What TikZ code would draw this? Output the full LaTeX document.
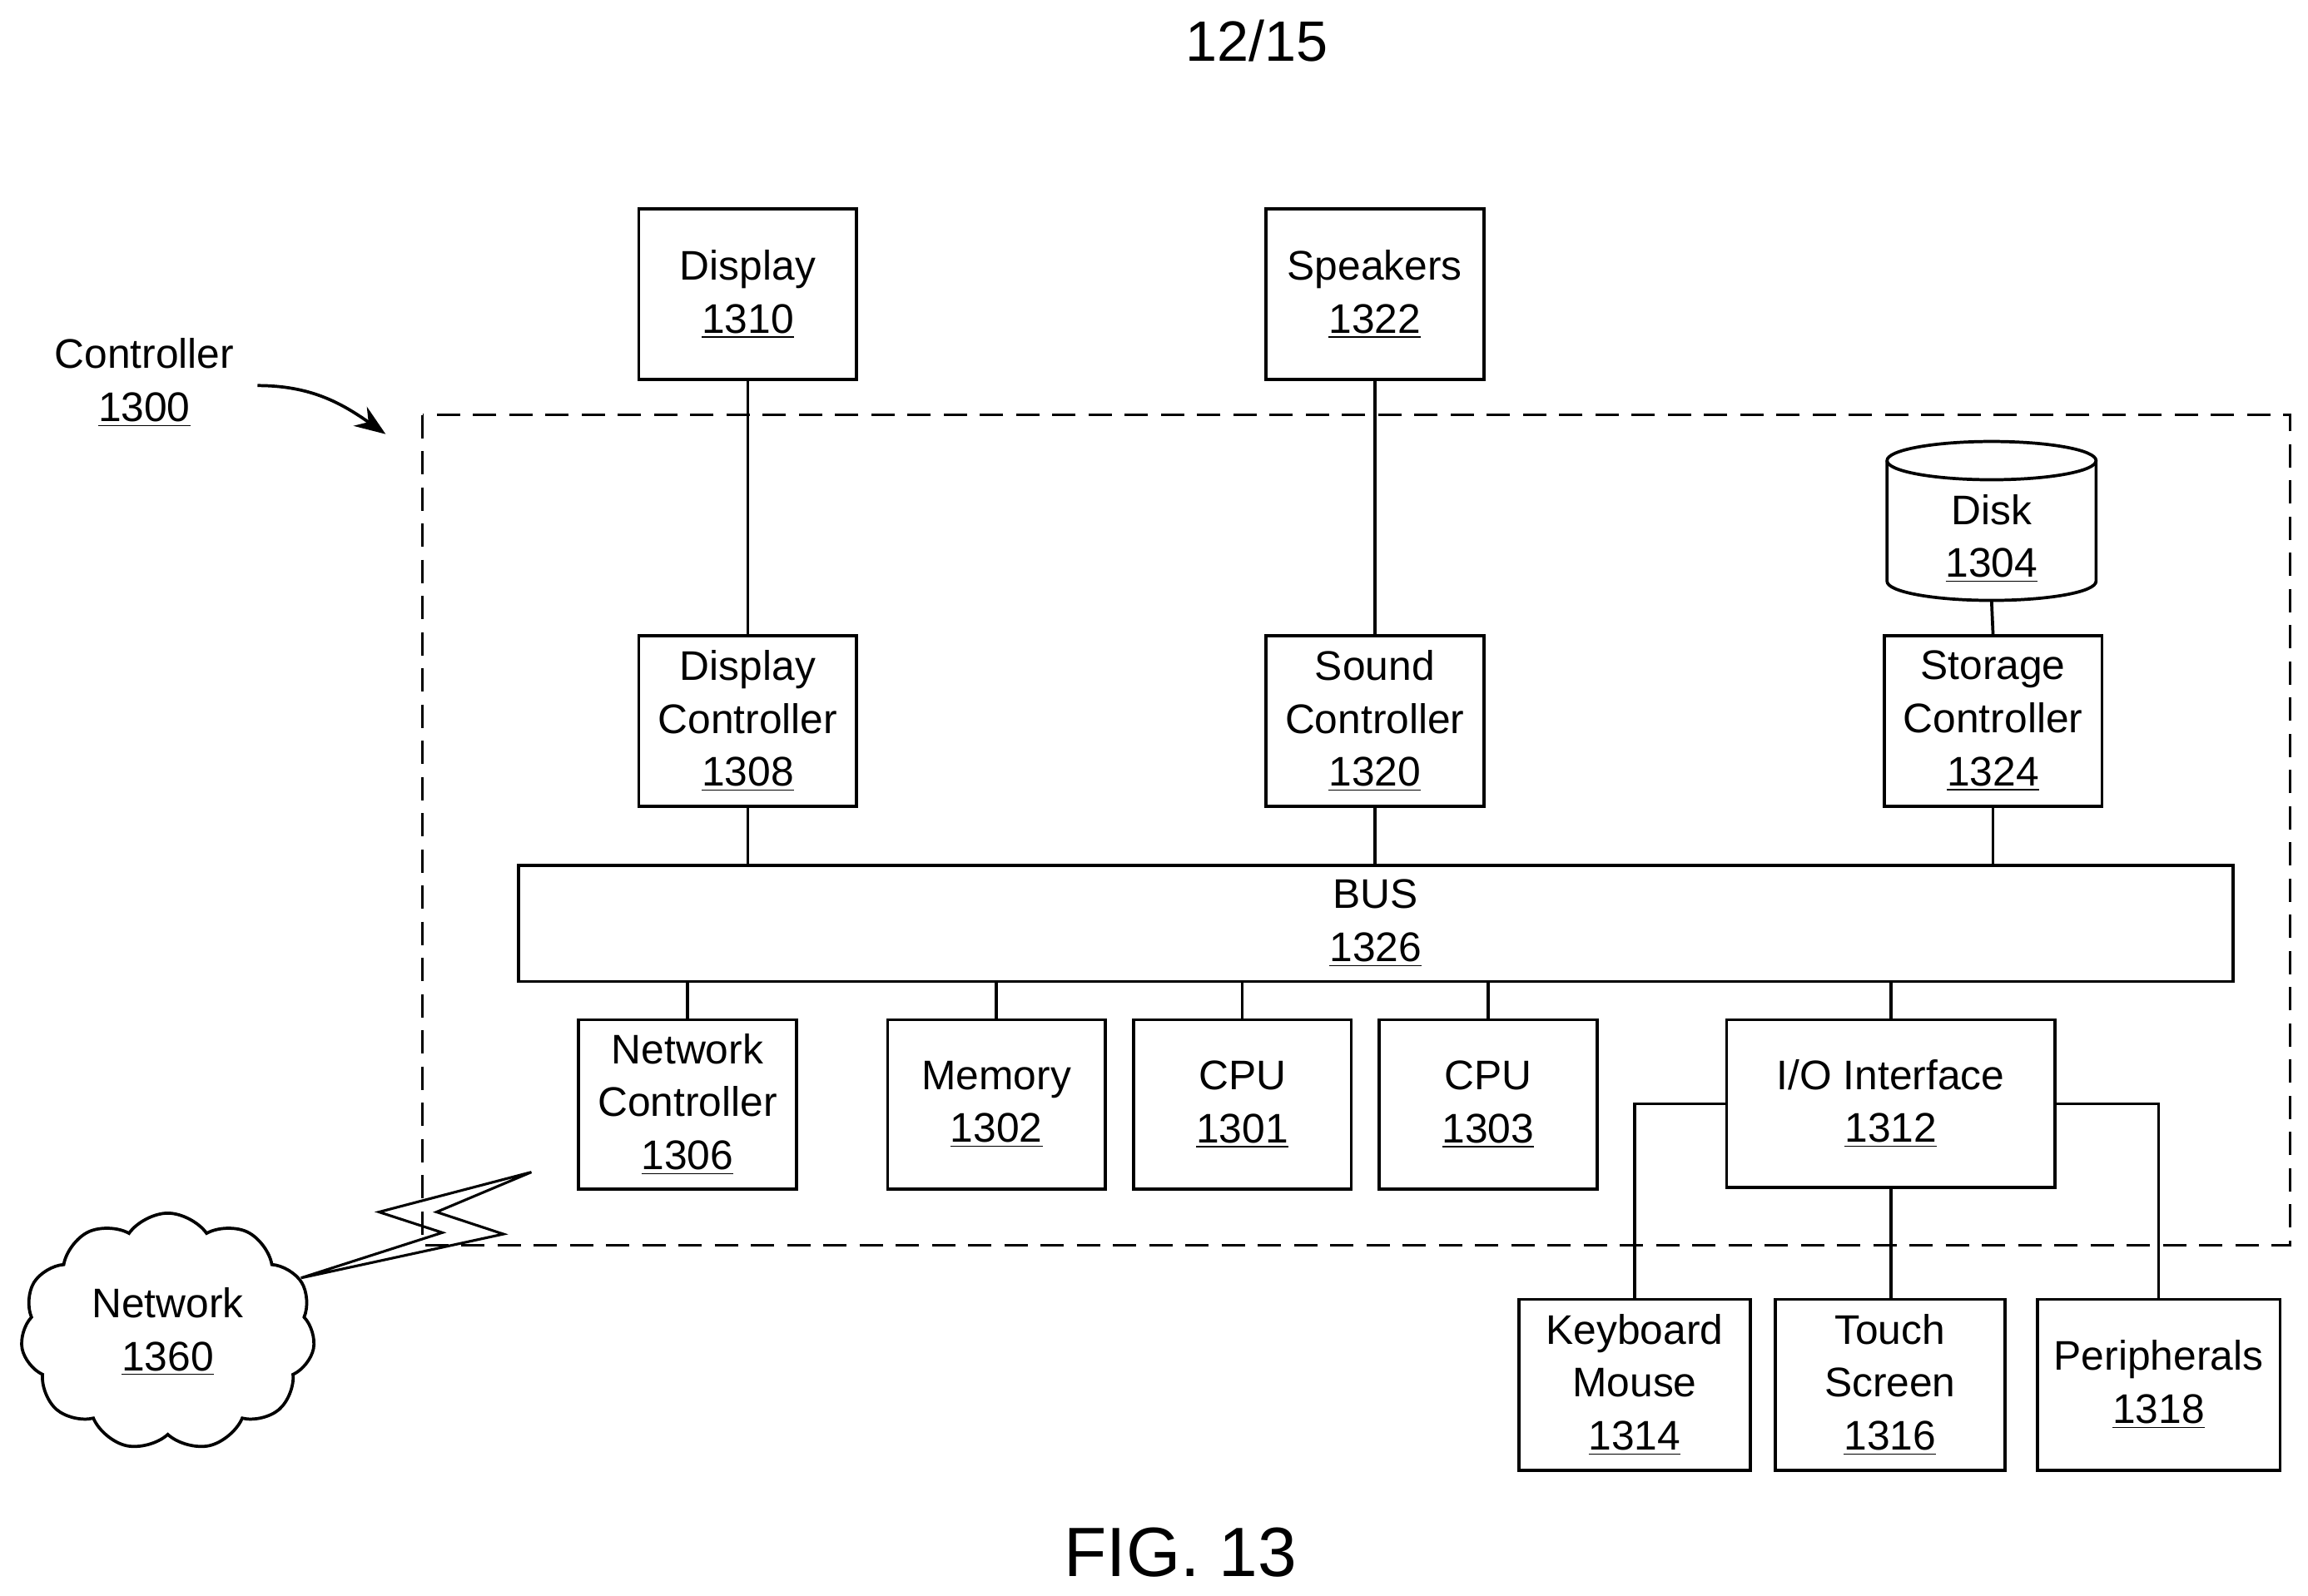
\documentclass[tikz,border=0pt]{standalone}
\usepackage{fontspec}
\setmainfont{Liberation Sans}
\usetikzlibrary{shapes.symbols,arrows.meta}
\begin{document}
\begin{tikzpicture}[x=0.02cm,y=-0.02cm,line width=1.2pt,
  every node/.style={font=\fontsize{16}{20.5}\selectfont,align=center,inner sep=0pt},
  box/.style={draw,minimum width=2.96cm,minimum height=2.32cm},
  lowbox/.style={draw,minimum width=2.96cm,minimum height=2.3cm}]
\useasboundingbox (0,0) rectangle (1568,1084);
\node (page) at (854,28) {\fontsize{22}{26}\selectfont 12/15};
\node (fig) at (802,1055) {\fontsize{27}{32}\selectfont FIG. 13};
\draw[dash pattern=on 9pt off 5pt,line width=0.9pt] (287,282) rectangle (1556,846);
\node (ctl) at (98,260) {Controller\\\underline{1300}};
\coordinate (ca) at (175,262);
\coordinate (cb) at (262,295);
\draw[-{Stealth[length=12pt,width=9pt]}] (ca) to[out=0,in=145] (cb);

\node[box] (disp) at (508,200) {Display\\\underline{1310}};
\node[box] (spk) at (934,200) {Speakers\\\underline{1322}};
\node[box] (dc) at (508,490) {Display\\Controller\\\underline{1308}};
\node[box] (sc) at (934,490) {Sound\\Controller\\\underline{1320}};
\node[box] (stc) at (1354,490) {Storage\\Controller\\\underline{1324}};
\draw (1282,313) -- (1282,395) arc[start angle=180,end angle=0,x radius=71,y radius=13] -- (1424,313);
\draw (1353,313) ellipse[x radius=71,y radius=13];
\node (disk) at (1353,366) {Disk\\\underline{1304}};
\coordinate (diskb) at (1353,408);
\node[draw,minimum width=23.3cm,minimum height=1.58cm] (bus) at (934.5,627.5) {BUS\\\underline{1326}};
\node[lowbox] (nc) at (467,750.5) {Network\\Controller\\\underline{1306}};
\node[lowbox] (mem) at (677,750.5) {Memory\\\underline{1302}};
\node[lowbox] (cpu1) at (844,750.5) {CPU\\\underline{1301}};
\node[lowbox] (cpu3) at (1011,750.5) {CPU\\\underline{1303}};
\node[draw,minimum width=4.46cm,minimum height=2.28cm] (io) at (1284.5,750) {I/O Interface\\\underline{1312}};
\node[draw,minimum width=3.14cm,minimum height=2.32cm] (kb) at (1110.5,941) {Keyboard\\Mouse\\\underline{1314}};
\node[draw,minimum width=3.12cm,minimum height=2.32cm] (ts) at (1284,941) {Touch\\Screen\\\underline{1316}};
\node[draw,minimum width=3.3cm,minimum height=2.32cm] (per) at (1466.5,941) {Peripherals\\\underline{1318}};

\draw (disp.south) -- (dc.north);
\draw (spk.south) -- (sc.north);
\draw (diskb) -- (stc.north);
\draw (dc.south) -- (dc.south |- bus.north);
\draw (sc.south) -- (sc.south |- bus.north);
\draw (stc.south) -- (stc.south |- bus.north);
\draw (nc.north) -- (nc.north |- bus.south);
\draw (mem.north) -- (mem.north |- bus.south);
\draw (cpu1.north) -- (cpu1.north |- bus.south);
\draw (cpu3.north) -- (cpu3.north |- bus.south);
\draw (io.north) -- (io.north |- bus.south);
\draw (io.west) -| (kb.north);
\draw (io.south) -- (io.south |- ts.north);
\draw (io.east) -| (per.north);

\node[cloud,draw,cloud puffs=11,cloud puff arc=110,minimum width=4.0cm,minimum height=2.1cm] (net) at (114,905) {Network\\\underline{1360}};
\draw[line width=1pt,line join=miter] (361,796.5) -- (257.5,823.6) -- (300.5,837.6) -- (204.5,868.4) -- (342,838.6) -- (296.6,823.6) -- cycle;
\end{tikzpicture}
\end{document}
